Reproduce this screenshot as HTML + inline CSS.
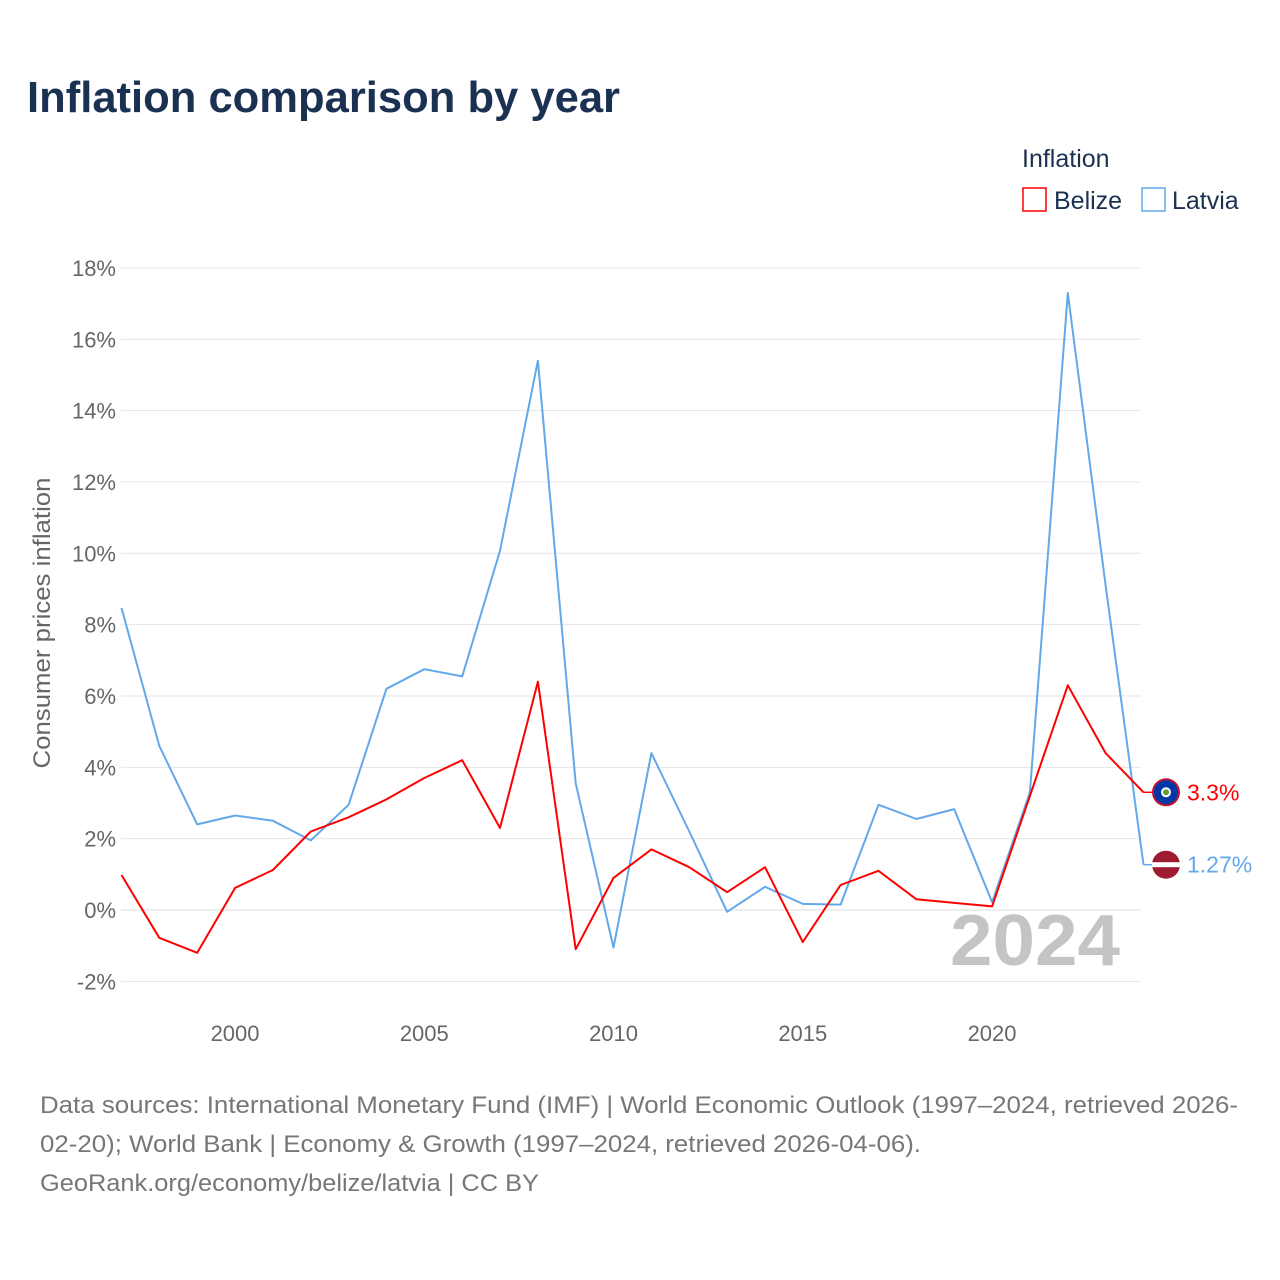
<!DOCTYPE html>
<html><head><meta charset="utf-8"><style>
body{margin:0;background:#fff;font-family:"Liberation Sans",sans-serif}
#wrap{position:relative;width:1280px;height:1280px;overflow:hidden}
</style></head><body>
<div id="wrap">
<svg id="chart" width="1280" height="1280">
<text x="27" y="112" font-size="44" font-weight="bold" fill="#1b3152" textLength="593" lengthAdjust="spacingAndGlyphs">Inflation comparison by year</text>
<text x="1022" y="167" font-size="25" fill="#1b3152">Inflation</text>
<g><rect x="1023" y="188" width="23" height="23" fill="none" stroke="#ff0000" stroke-width="1.5"/><text x="1054" y="209" font-size="25" fill="#1b3152">Belize</text></g>
<g><rect x="1142" y="188" width="23" height="23" fill="none" stroke="#62a8ea" stroke-width="1.5"/><text x="1172" y="209" font-size="25" fill="#1b3152">Latvia</text></g>
<g id="grid"></g><g id="ylab"></g><g id="xlab"></g>
<text x="1120" y="965" font-size="72" font-weight="bold" fill="#c4c4c4" text-anchor="end" textLength="170" lengthAdjust="spacingAndGlyphs">2024</text>
<g id="lines"></g>
<text transform="translate(50,623) rotate(-90)" font-size="24" fill="#666" text-anchor="middle" textLength="291" lengthAdjust="spacingAndGlyphs">Consumer prices inflation</text>
<g font-size="24" fill="#777">
<text x="40" y="1113" textLength="1198" lengthAdjust="spacingAndGlyphs">Data sources: International Monetary Fund (IMF) | World Economic Outlook (1997–2024, retrieved 2026-</text>
<text x="40" y="1152" textLength="881" lengthAdjust="spacingAndGlyphs">02-20); World Bank | Economy &amp; Growth (1997–2024, retrieved 2026-04-06).</text>
<text x="40" y="1191" textLength="499" lengthAdjust="spacingAndGlyphs">GeoRank.org/economy/belize/latvia | CC BY</text>
</g>
</svg></div>
<script>
const years=[1997,1998,1999,2000,2001,2002,2003,2004,2005,2006,2007,2008,2009,2010,2011,2012,2013,2014,2015,2016,2017,2018,2019,2020,2021,2022,2023,2024];
const belize=[0.98,-0.78,-1.2,0.62,1.12,2.2,2.6,3.1,3.7,4.2,2.3,6.4,-1.1,0.9,1.7,1.2,0.5,1.2,-0.9,0.7,1.1,0.3,0.2,0.1,3.2,6.3,4.4,3.3];
const latvia=[8.47,4.6,2.4,2.65,2.5,1.95,2.95,6.2,6.75,6.55,10.07,15.4,3.55,-1.05,4.4,2.2,-0.05,0.65,0.17,0.15,2.95,2.55,2.83,0.22,3.3,17.3,9.1,1.27];
const yTicks=[-2,0,2,4,6,8,10,12,14,16,18];
const xTicks=[2000,2005,2010,2015,2020];
const NS="http://www.w3.org/2000/svg";
const X=y=>121.5+(y-1997)*37.85;
const Y=v=>910-v*35.67;
function mk(t,a,p){const e=document.createElementNS(NS,t);for(const k in a)e.setAttribute(k,a[k]);p.appendChild(e);return e;}
const grid=document.getElementById('grid'),yl=document.getElementById('ylab'),xl=document.getElementById('xlab'),ln=document.getElementById('lines');
yTicks.forEach(v=>{
 const l=mk('line',{x1:121,x2:1141,y1:Y(v),y2:Y(v),stroke:v===0?'#ddd':'#e6e6e6','stroke-width':1},grid);
 
 
 const t=mk('text',{x:116,y:Y(v)+8,'font-size':22,fill:'#666','text-anchor':'end'},yl);
 t.textContent=v+'%';
 
 
});
xTicks.forEach(v=>{
 const t=mk('text',{x:X(v),y:1041,'font-size':22,fill:'#666','text-anchor':'middle'},xl);
 t.textContent=v;
 
 
});
function series(vals,color,name,label){
 const d=vals.map((v,i)=>(i?'L':'M')+X(years[i]).toFixed(1)+','+Y(v).toFixed(1)).join('');
 const p=mk('path',{d:d,fill:'none',stroke:color,'stroke-width':2,'stroke-linejoin':'round'},ln);
 
 
 const last=vals[vals.length-1],ly=Y(last);
 const s=mk('line',{x1:X(2024),x2:1152,y1:ly,y2:ly,stroke:color,'stroke-width':1.5},ln);
 
 
 const g=mk('g',{},ln);
 
 
 if(name==='belize'){
  mk('circle',{cx:1166,cy:ly,r:14,fill:'#c8102e'},g);
  mk('circle',{cx:1166,cy:ly,r:12,fill:'#0038a8'},g);
  mk('circle',{cx:1166,cy:ly,r:5,fill:'#fff'},g);
  mk('circle',{cx:1166,cy:ly,r:3,fill:'#6a9a3a'},g);
 }else{
  mk('circle',{cx:1166,cy:ly,r:14,fill:'#9e1b32'},g);
  mk('rect',{x:1152,y:ly-2.5,width:28,height:5,fill:'#fff'},g);
 }
 const t=mk('text',{x:1187,y:ly+8,'font-size':23,fill:color},ln);
 t.textContent=label;
 
 
}
series(latvia,'#62a8ea','latvia','1.27%');
series(belize,'#ff0000','belize','3.3%');
</script>
</body></html>
